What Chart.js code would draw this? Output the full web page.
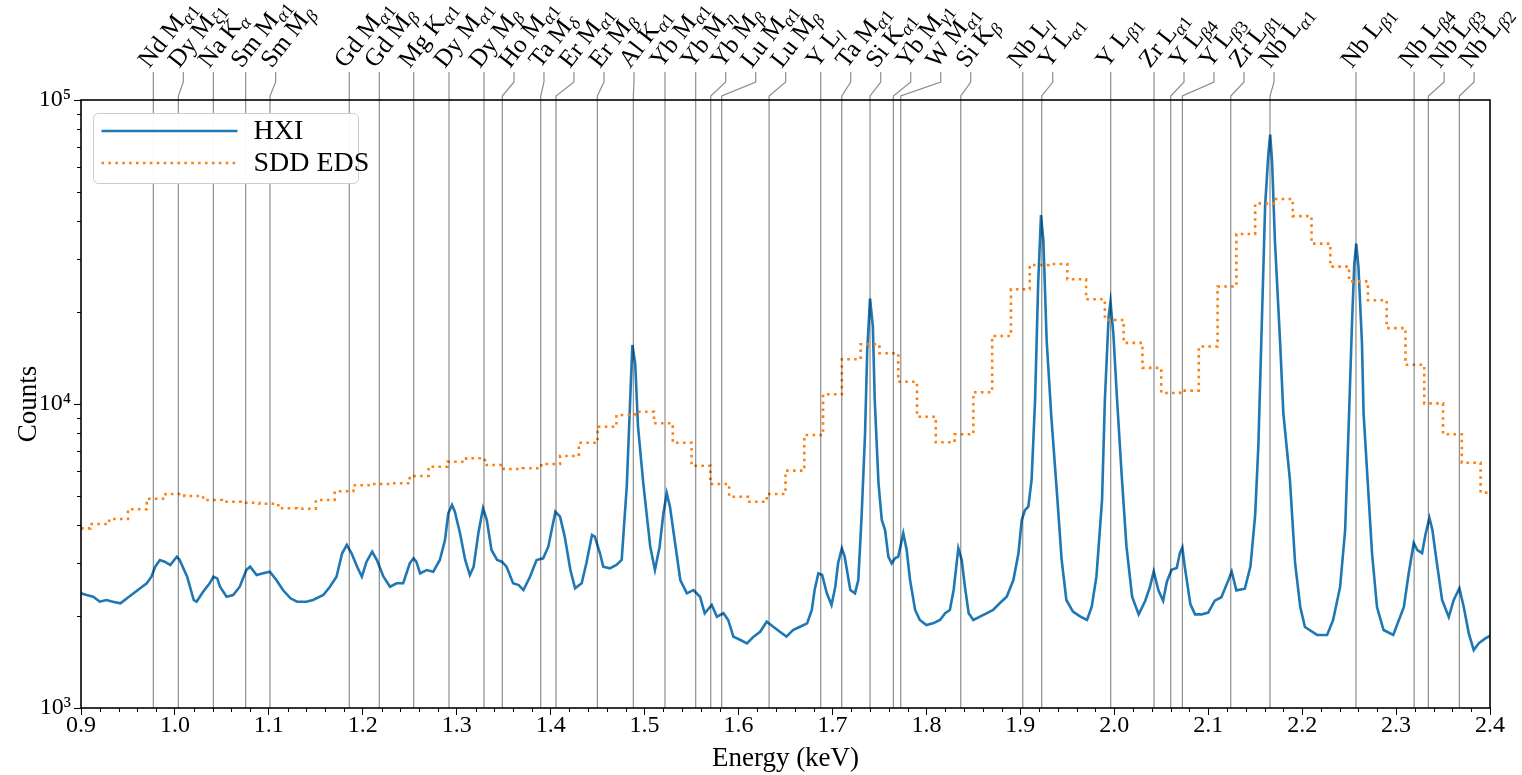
<!DOCTYPE html>
<html><head><meta charset="utf-8">
<script src="https://cdn.jsdelivr.net/npm/chart.js@4.4.0/dist/chart.umd.min.js"></script>
<style>html,body{margin:0;padding:0;background:#fff;}#wrap{width:1522px;height:775px;}</style>
</head><body><div id="wrap"><canvas id="c" width="1522" height="775"></canvas></div>
<script>
// ---------- DATA ----------
const hxiEnergy = [
0.900,0.906,0.913,0.920,0.927,0.934,0.942,0.949,0.956,0.963,0.970,0.975,0.979,0.984,0.989,0.995,1.002,1.005,1.013,1.020,1.023,1.030,1.037,1.041,1.045,1.048,1.055,1.062,1.069,1.076,1.080,1.087,1.094,1.101,1.108,1.115,1.123,1.130,1.140,1.147,1.158,1.165,1.172,1.178,1.183,1.188,1.194,1.199,1.204,1.210,1.215,1.222,1.229,1.236,1.243,1.250,1.254,1.257,1.261,1.268,1.275,1.282,
1.2875,1.291,1.295,1.298,1.3035,1.309,1.314,1.318,1.323,1.328,1.332,1.337,1.343,1.348,1.353,1.360,1.366,1.371,1.378,1.385,1.392,1.3975,1.405,1.410,1.415,1.421,1.426,1.433,1.438,1.444,1.447,1.4525,1.456,1.463,1.470,1.4756,1.481,1.4845,1.487,1.490,1.493,1.4986,1.506,1.511,1.516,1.520,1.5236,1.527,1.532,1.538,1.545,1.552,1.559,1.564,1.5715,1.577,1.584,1.589,1.5945,1.602,1.609,1.616,1.623,1.630,1.637,1.644,1.651,
1.658,1.6655,1.673,1.678,1.681,1.685,1.689,1.694,1.699,1.703,1.706,1.710,1.713,1.719,1.724,1.7275,1.731,1.7347,1.737,1.740,1.743,1.745,1.749,1.7525,1.756,1.7595,1.763,1.7666,1.770,1.7754,1.779,1.7826,1.788,1.793,1.800,1.807,1.8145,1.820,1.825,1.829,1.834,1.8376,1.841,1.845,1.850,1.857,1.864,1.871,1.878,1.8855,1.8926,1.898,1.9015,1.905,1.9085,1.912,1.9157,1.919,1.922,1.9245,1.928,1.933,1.939,1.944,1.949,1.956,1.964,1.971,1.976,1.981,1.987,1.990,1.994,1.996,1.999,2.003,2.008,2.013,2.019,
2.026,2.033,2.038,2.042,2.047,2.052,2.056,2.061,2.0665,2.070,2.0725,2.075,2.081,2.086,2.093,2.100,2.107,2.114,2.1215,2.125,2.130,2.139,2.145,2.150,2.1534,2.157,2.1606,2.164,2.166,2.168,2.171,2.1766,2.180,2.187,2.1925,2.198,2.203,2.2159,2.2266,2.233,2.2404,2.2458,2.250,2.253,2.2555,2.2576,2.260,2.2637,2.2654,2.2697,2.2744,2.2797,2.2867,2.297,2.3083,2.3135,2.3188,2.3227,2.3277,2.3312,2.3355,2.3387,2.343,2.349,2.3561,2.3614,2.3674,2.372,2.3774,2.3827,2.388,2.395,2.400];
const hxiCounts = [
2384,2353,2323,2237,2266,2237,2210,2295,2384,2476,2572,2703,2916,3068,3029,2954,3146,3068,2703,2266,2237,2413,2572,2703,2670,2506,2323,2353,2506,2844,2916,2738,2774,2808,2636,2444,2295,2237,2237,2266,2353,2506,2703,3228,3438,3228,2916,2703,3029,3267,3068,2703,2506,2572,2572,2992,3108,3029,2774,2844,2808,3068,
3570,4370,4655,4423,3755,3068,2738,2916,3755,4539,4154,3309,3068,3029,2916,2572,2538,2444,2703,3068,3108,3394,4423,4259,3660,2844,2476,2572,2992,3707,3660,3228,2916,2881,2954,3068,5346,10050,15640,13610,8420,5484,3394,2844,3394,4370,5085,4595,3570,2636,2384,2444,2323,2049,2182,1997,2049,1948,1717,1674,1632,1717,1782,1922,1851,1782,1717,
1805,1851,1899,2101,2444,2774,2738,2384,2182,2506,2992,3353,3146,2444,2384,2636,4259,8010,15020,22220,17960,10310,5484,4154,3850,3146,2992,3108,3146,3755,3309,2636,2101,1948,1875,1899,1948,2049,2101,2444,3353,3068,2506,2049,1948,1997,2049,2101,2210,2323,2636,3228,4154,4481,4595,5623,10310,24950,41850,34630,16230,9080,5085,3068,2266,2074,1997,1948,2154,2703,4833,10310,19380,21700,17090,10310,5768,3394,2323,
2032,2254,2502,2812,2437,2254,2603,2848,2887,3245,3373,2925,2197,2032,2032,2060,2254,2314,2634,2812,2437,2468,2925,4320,7265,18050,44870,66280,77000,62900,34580,15850,9320,5623,2999,2149,1847,1739,1739,1948,2500,3850,9340,18050,28830,33700,28080,15850,9320,5623,3235,2149,1805,1739,2149,2780,3489,3309,3235,3707,4217,3850,3068,2266,1992,2266,2476,2154,1760,1551,1632,1694,1725];

const sddEnergy = [0.90,0.92,0.94,0.96,0.98,1.00,1.02,1.04,1.06,1.08,1.10,1.12,1.14,1.16,1.18,1.20,1.22,1.24,1.26,1.28,1.30,1.32,1.34,1.36,1.38,1.40,1.42,1.44,1.46,1.48,1.50,1.52,1.54,1.56,1.58,1.60,1.62,1.64,1.66,1.68,1.70,1.72,1.74,1.76,1.78,1.80,1.82,1.84,1.86,1.88,1.90,1.92,1.94,1.96,1.98,2.00,2.02,2.04,2.06,2.08,2.10,2.12,2.14,2.16,2.18,2.20,2.22,2.24,2.26,2.28,2.30,2.32,2.34,2.36,2.38,2.40];
const sddCounts = [3899,4030,4184,4504,4881,5057,4982,4833,4770,4734,4699,4538,4524,4833,5162,5403,5456,5484,5798,6220,6459,6628,6300,6113,6145,6347,6744,7459,8421,9200,9434,8641,7459,6266,5456,4956,4770,5057,6035,7907,10762,14028,15720,14685,11842,9082,7482,7949,10926,16742,23840,28660,28880,25720,22100,18890,15890,13150,10870,11070,15450,24340,36250,45700,47240,41510,33700,28310,25310,21940,17770,13460,10050,7950,6410,5110];

const xTickValues = [0.9,1.0,1.1,1.2,1.3,1.4,1.5,1.6,1.7,1.8,1.9,2.0,2.1,2.2,2.3,2.4];
const yTickValues = [1e3,1e4,1e5];
const seriesNames = ['HXI','SDD EDS'];

const lineEnergies = [0.977,1.0036,1.0409,1.0753,1.1012,1.1856,1.2176,1.2542,1.2918,1.329,1.3485,1.3894,1.4057,1.4497,1.488,1.5217,1.5544,1.5704,1.5821,1.6325,1.6875,1.7099,1.740,1.7648,1.7727,1.8366,1.9026,1.9228,1.9962,2.0423,2.0601,2.0725,2.124,2.1658,2.2573,2.3192,2.3344,2.3674];
const lineElements = ['Nd','Dy','Na','Sm','Sm','Gd','Gd','Mg','Dy','Dy','Ho','Ta','Er','Er','Al','Yb','Yb','Yb','Lu','Lu','Y','Ta','Si','Yb','W','Si','Nb','Y','Y','Zr','Y','Y','Zr','Nb','Nb','Nb','Nb','Nb'];
const lineShells = ['M','M','K','M','M','M','M','K','M','M','M','M','M','M','K','M','M','M','M','M','L','M','K','M','M','K','L','L','L','L','L','L','L','L','L','L','L','L'];
const lineSubs = ['α1','ξ1','α','α1','β','α1','β','α1','α1','β','α1','δ','α1','β','α1','α1','η','β','α1','β','l','α1','α1','γ1','α1','β','l','α1','β1','α1','β4','β3','β1','α1','β1','β4','β3','β2'];

// ---------- DRAWING ----------
const FONT = '"Liberation Serif","Times New Roman",serif';
const SUP = {'0':'⁰','1':'¹','2':'²','3':'³','4':'⁴','5':'⁵','6':'⁶','7':'⁷','8':'⁸','9':'⁹'};
const LABEL_ANGLE = 52 * Math.PI / 180;

function drawLineLabel(ctx, el, shell, sub){
  ctx.font = '25px ' + FONT;
  const main = el + ' ' + shell;
  ctx.fillText(main, 0, 0);
  let w = ctx.measureText(main).width;
  for (const ch of sub){
    const digit = /[0-9]/.test(ch);
    ctx.font = (digit ? '' : 'italic ') + '18px ' + FONT;
    ctx.fillText(ch, w, 5);
    w += ctx.measureText(ch).width;
  }
}

const overlay = {
  id: 'overlay',
  afterDatasetsDraw(chart){
    const {ctx, chartArea: a, scales: {x, y}} = chart;
    ctx.save();
    ctx.setTransform(1, 0, 0, 1, 0, 0);
    // minor ticks
    ctx.strokeStyle = '#000'; ctx.lineWidth = 1;
    for (let i = 0; i <= 75; i++){
      if (i % 5 === 0) continue;
      const px = Math.round(x.getPixelForValue(0.9 + i * 0.02)) + 0.5;
      ctx.beginPath(); ctx.moveTo(px, a.bottom); ctx.lineTo(px, a.bottom + 4); ctx.stroke();
    }
    for (const dec of [1e3, 1e4]){
      for (let m = 2; m <= 9; m++){
        const py = Math.round(y.getPixelForValue(m * dec)) + 0.5;
        ctx.beginPath(); ctx.moveTo(a.left, py); ctx.lineTo(a.left - 4, py); ctx.stroke();
      }
    }
    // emission lines with label layout
    const pos = []; let prev = -1e9;
    lineEnergies.forEach(e => { const px = x.getPixelForValue(e); const p = Math.max(px, prev + 30); pos.push(p); prev = p; });
    const topY = a.top - 28;
    ctx.strokeStyle = 'rgba(0,0,0,0.45)'; ctx.lineWidth = 1.2;
    lineEnergies.forEach((e, i) => {
      const px = x.getPixelForValue(e), p = pos[i];
      ctx.beginPath();
      if (Math.abs(p - px) < 0.6){ ctx.moveTo(px, topY); ctx.lineTo(px, a.bottom); }
      else { ctx.moveTo(p, topY); ctx.lineTo(p, topY + 10); ctx.lineTo(px, topY + 24); ctx.lineTo(px, a.bottom); }
      ctx.stroke();
    });
    ctx.fillStyle = '#000'; ctx.textAlign = 'left'; ctx.textBaseline = 'alphabetic';
    lineEnergies.forEach((e, i) => {
      ctx.save();
      ctx.translate(pos[i] - 4, topY - 3);
      ctx.rotate(-LABEL_ANGLE);
      drawLineLabel(ctx, lineElements[i], lineShells[i], lineSubs[i]);
      ctx.restore();
    });
    // frame
    ctx.strokeStyle = '#000'; ctx.lineWidth = 1.6;
    ctx.strokeRect(a.left, a.top, a.right - a.left, a.bottom - a.top);
    // legend
    const lx = a.left + 12.5, ly = a.top + 13.5, lw = 265, lh = 70;
    ctx.beginPath(); ctx.roundRect(lx, ly, lw, lh, 5);
    ctx.fillStyle = 'rgba(255,255,255,0.95)'; ctx.fill();
    ctx.strokeStyle = '#cccccc'; ctx.lineWidth = 1; ctx.stroke();
    const ds = chart.data.datasets;
    [0, 1].forEach(k => {
      const d = ds[k]; const yy = ly + 17.5 + k * 32;
      ctx.beginPath(); ctx.strokeStyle = d.borderColor; ctx.lineWidth = d.borderWidth;
      ctx.setLineDash(d.borderDash || []);
      ctx.moveTo(lx + 8, yy); ctx.lineTo(lx + 144, yy); ctx.stroke();
      ctx.setLineDash([]);
      ctx.fillStyle = '#000'; ctx.font = '28px ' + FONT; ctx.textBaseline = 'middle';
      ctx.fillText(d.label, lx + 160, yy + 1);
    });
    ctx.restore();
  }
};

new Chart(document.getElementById('c'), {
  type: 'line',
  data: {
    datasets: [
      { label: seriesNames[0], data: hxiEnergy.map((e, i) => ({x: e, y: hxiCounts[i]})),
        borderColor: '#1f77b4', borderWidth: 2.6, pointRadius: 0, tension: 0, order: 2 },
      { label: seriesNames[1], data: sddEnergy.map((e, i) => ({x: e, y: sddCounts[i]})),
        borderColor: '#ff7f0e', borderWidth: 2.6, borderDash: [2.6, 4.3], pointRadius: 0, stepped: 'middle', order: 1 }
    ]
  },
  options: {
    responsive: false, animation: false, devicePixelRatio: 1,
    layout: { padding: { top: 100, right: 32, left: 0, bottom: 0 } },
    plugins: { legend: { display: false }, tooltip: { enabled: false } },
    scales: {
      x: {
        type: 'linear', min: 0.9, max: 2.4,
        afterBuildTicks: s => { s.ticks = xTickValues.map(v => ({value: v})); },
        afterFit: s => { s.height = 67; },
        ticks: { callback: v => Number(v).toFixed(1), autoSkip: false, maxRotation: 0, padding: -4, color: '#000', font: { family: FONT, size: 24 } },
        grid: { drawOnChartArea: false, drawTicks: true, tickLength: 7, color: '#000', tickWidth: 1 },
        border: { display: false },
        title: { display: true, text: 'Energy (keV)', color: '#000', font: { family: FONT, size: 27 }, padding: { top: 0, bottom: 0 } }
      },
      y: {
        type: 'logarithmic', min: 1e3, max: 1e5,
        afterBuildTicks: s => { s.ticks = yTickValues.map(v => ({value: v})); },
        afterFit: s => { s.width = 81; },
        ticks: { callback: v => '10' + String(Math.round(Math.log10(v))).split('').map(c => SUP[c]).join(''), autoSkip: false, padding: 3, color: '#000', font: { family: FONT, size: 24 } },
        grid: { drawOnChartArea: false, drawTicks: true, tickLength: 7, color: '#000', tickWidth: 1 },
        border: { display: false },
        title: { display: true, text: 'Counts', color: '#000', font: { family: FONT, size: 27 }, padding: { top: 13, bottom: 0 } }
      }
    }
  },
  plugins: [overlay]
});
</script></body></html>
